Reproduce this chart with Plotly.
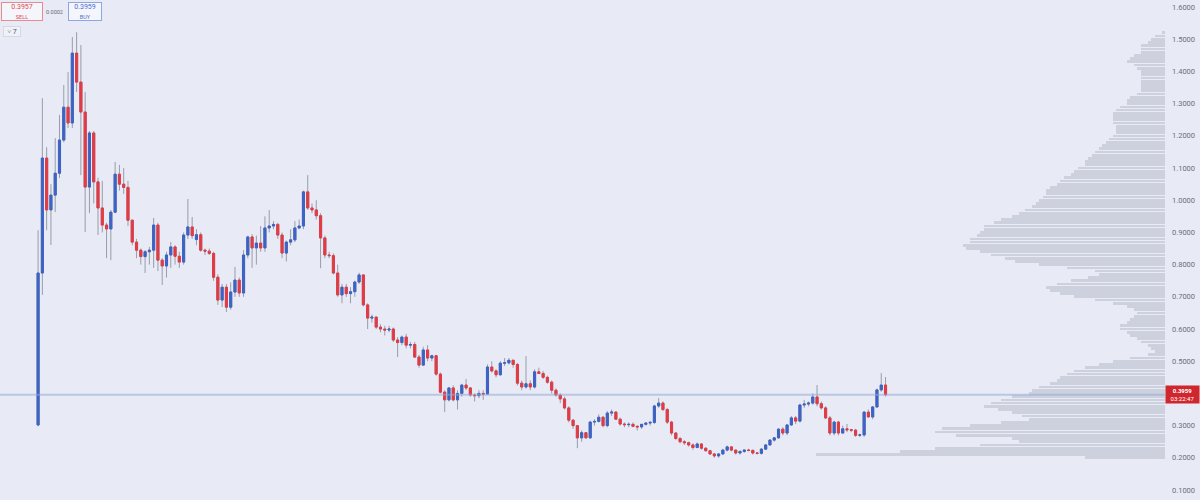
import plotly.graph_objects as go

# daily candles
open_ = [
    .302, .774, 1.131, .970, 1.016, 1.084, 1.187, 1.289, 1.240, 1.457,
    1.367, 1.274, 1.041, 1.209, 1.057, .976, .923, .911, .963, 1.081,
    1.050, 1.040, .938, .870, .845, .825, .840, .845, .923, .814,
    .796, .830, .855, .826, .808, .892, .917, .878, .893, .845,
    .842, .835, .761, .690, .730, .668, .715, .752, .712, .830,
    .886, .852, .867, .852, .914, .920, .925, .892, .836, .870,
    .877, .914, .920, 1.026, .976, .970, .952, .883, .830, .828,
    .774, .706, .730, .710, .716, .746, .768, .675, .634, .637,
    .606, .600, .597, .600, .566, .558, .575, .550, .552, .513,
    .488, .535, .510, .517, .460, .404, .380, .417, .380, .400,
    .426, .417, .395, .393, .400, .398, .482, .470, .458, .494,
    .495, .503, .490, .432, .420, .430, .420, .467, .462, .450,
    .435, .410, .395, .383, .355, .317, .300, .262, .278, .262,
    .311, .313, .326, .300, .339, .342, .320, .305, .303, .304,
    .298, .296, .304, .308, .310, .361, .370, .350, .311, .277,
    .260, .250, .247, .240, .232, .243, .230, .222, .212, .206,
    .212, .224, .234, .224, .215, .220, .224, .223, .215, .214,
    .227, .240, .255, .262, .289, .277, .302, .324, .314, .364,
    .367, .370, .389, .368, .355, .324, .277, .311, .277, .290,
    .287, .286, .270, .271, .342, .327, .358, .411, .426,
]
high = [
    .907, 1.317, 1.165, 1.050, 1.193, 1.265, 1.358, 1.398, 1.507, 1.522,
    1.482, 1.336, 1.215, 1.215, 1.070, 1.060, .930, .970, 1.119, 1.110,
    1.100, 1.060, .940, .880, .850, .845, .855, .945, .930, .820,
    .840, .870, .860, .840, .900, 1.004, .948, .910, .900, .850,
    .850, .840, .770, .740, .740, .745, .793, .760, .845, .890,
    .895, .890, .920, .950, .970, .935, .930, .900, .875, .910,
    .935, .940, 1.030, 1.078, .990, 1.000, .960, .890, .840, .835,
    .800, .740, .740, .730, .750, .775, .770, .680, .645, .640,
    .615, .610, .610, .605, .575, .580, .585, .560, .560, .520,
    .545, .550, .520, .520, .465, .410, .420, .425, .410, .430,
    .445, .420, .400, .410, .410, .490, .500, .475, .500, .510,
    .510, .505, .495, .440, .516, .440, .475, .480, .470, .455,
    .440, .415, .400, .390, .360, .320, .300, .285, .280, .315,
    .320, .335, .330, .345, .350, .345, .325, .310, .310, .310,
    .300, .305, .310, .315, .365, .386, .375, .355, .315, .280,
    .265, .255, .250, .245, .248, .245, .232, .225, .215, .215,
    .228, .238, .236, .226, .222, .226, .228, .226, .218, .230,
    .243, .258, .265, .292, .295, .305, .330, .330, .368, .380,
    .375, .400, .426, .375, .360, .330, .315, .315, .300, .305,
    .290, .290, .275, .345, .350, .360, .415, .463, .451,
]
low = [
    .298, .706, .907, .861, .963, 1.069, 1.180, 1.224, 1.224, 1.336,
    1.078, .901, .960, .990, .892, .900, .820, .814, .960, 1.030,
    1.020, .920, .860, .820, .800, .774, .800, .790, .780, .737,
    .760, .790, .800, .790, .800, .880, .880, .860, .840, .830,
    .830, .750, .675, .668, .653, .660, .700, .700, .700, .820,
    .790, .800, .840, .840, .900, .910, .880, .820, .810, .860,
    .870, .910, .910, .970, .960, .940, .789, .820, .820, .770,
    .700, .680, .700, .680, .700, .740, .670, .600, .620, .600,
    .590, .580, .590, .560, .513, .550, .540, .540, .510, .480,
    .485, .500, .500, .455, .400, .342, .375, .375, .350, .390,
    .410, .390, .375, .385, .380, .395, .465, .450, .455, .485,
    .490, .480, .425, .410, .415, .410, .415, .460, .445, .430,
    .400, .390, .370, .350, .310, .290, .230, .250, .260, .260,
    .300, .310, .295, .295, .330, .320, .300, .295, .295, .295,
    .285, .290, .300, .300, .305, .355, .345, .305, .270, .255,
    .245, .240, .235, .225, .230, .225, .220, .210, .200, .200,
    .210, .220, .220, .210, .210, .215, .220, .210, .210, .210,
    .225, .238, .250, .260, .270, .270, .300, .305, .310, .355,
    .360, .365, .360, .350, .320, .270, .270, .270, .275, .280,
    .280, .265, .265, .265, .325, .320, .355, .405, .390,
]
close = [
    .774, 1.131, .970, 1.016, 1.084, 1.187, 1.289, 1.240, 1.457, 1.367,
    1.274, 1.041, 1.209, 1.057, .976, .923, .911, .963, 1.081, 1.050,
    1.040, .938, .870, .845, .825, .840, .845, .923, .814, .796,
    .830, .855, .826, .808, .892, .917, .890, .893, .845, .842,
    .835, .761, .690, .730, .668, .715, .752, .712, .830, .886,
    .852, .867, .852, .914, .920, .925, .892, .836, .870, .877,
    .914, .920, 1.026, .976, .970, .952, .883, .830, .828, .774,
    .706, .730, .710, .716, .746, .768, .675, .634, .637, .606,
    .600, .597, .600, .566, .558, .575, .550, .552, .513, .488,
    .535, .510, .517, .460, .404, .380, .417, .380, .400, .426,
    .417, .395, .393, .400, .398, .482, .470, .458, .494, .495,
    .503, .490, .432, .420, .430, .420, .467, .462, .450, .435,
    .410, .395, .383, .355, .317, .300, .262, .278, .262, .311,
    .313, .326, .300, .339, .342, .320, .305, .303, .304, .298,
    .296, .304, .308, .310, .361, .370, .350, .311, .277, .260,
    .250, .247, .240, .232, .243, .230, .222, .212, .206, .212,
    .224, .234, .224, .215, .220, .224, .223, .215, .214, .227,
    .240, .255, .262, .289, .277, .302, .324, .314, .364, .367,
    .370, .389, .368, .355, .324, .277, .311, .277, .290, .287,
    .286, .270, .271, .342, .327, .358, .411, .426, .3959,
]

# volume profile (relative volume per 0.01 price row, from 0.20 up to 1.52)
profile_levels = [round(0.20 + 0.01 * k, 2) for k in range(133)]
profile_volume = [
    23, 100, 76, 66, 53, 42, 44, 60, 66, 64,
    56, 47, 39, 41, 44, 48, 52, 50, 47, 44,
    39, 38, 36, 33, 31, 30, 28, 26, 23, 19,
    15, 10, 5, 3, 4, 5, 7, 8, 10, 11,
    13, 13, 11, 10, 9, 8, 9, 11, 15, 20,
    26, 30, 33, 34, 31, 27, 22, 19, 20, 28,
    36, 43, 46, 50, 53, 57, 58, 56, 56, 54,
    53, 52, 52, 49, 47, 44, 42, 40, 38, 37,
    36, 35, 34, 34, 33, 31, 30, 29, 27, 26,
    25, 23, 23, 22, 21, 20, 19, 18, 17, 16,
    15, 14, 14, 14, 15, 15, 15, 15, 14, 13,
    11, 11, 10, 8, 7, 7, 7, 7, 7, 7,
    7, 8, 9, 11, 10, 9, 7, 7, 7, 5,
    4, 3, 1,
]

bid, ask, spread = "0.3957", "0.3959", "0.0002"
countdown = "03:22:47"
y_ticks = [0.1, 0.2, 0.3, 0.4, 0.5, 0.6, 0.7, 0.8, 0.9, 1.0, 1.1, 1.2, 1.3, 1.4, 1.5, 1.6]

BG = "#e8ebf5"
UP = "#3d63c4"
DOWN = "#e23b45"
WICK = "#979dab"

xs = list(range(len(close)))
body_hi = [max(o, c) for o, c in zip(open_, close)]
body_lo = [min(o, c) for o, c in zip(open_, close)]

fig = go.Figure()

fig.add_trace(go.Bar(
    x=profile_volume, y=profile_levels, orientation="h",
    xaxis="x2", yaxis="y", width=0.0085,
    marker=dict(color="#cdd1de", line=dict(width=0)),
    hoverinfo="skip", showlegend=False,
))

# wicks (grey), then coloured bodies on top
fig.add_trace(go.Candlestick(
    x=xs, open=open_, high=high, low=low, close=close,
    increasing=dict(line=dict(color=WICK, width=1), fillcolor=WICK),
    decreasing=dict(line=dict(color=WICK, width=1), fillcolor=WICK),
    whiskerwidth=0, showlegend=False, hoverinfo="skip",
))
fig.add_trace(go.Candlestick(
    x=xs, open=open_, high=body_hi, low=body_lo, close=close,
    increasing=dict(line=dict(color=UP, width=1), fillcolor=UP),
    decreasing=dict(line=dict(color=DOWN, width=1), fillcolor=DOWN),
    whiskerwidth=0, showlegend=False,
))

last = close[-1]
fig.add_shape(type="line", xref="paper", x0=0, x1=1, y0=last, y1=last,
              line=dict(color="rgba(150,168,215,0.55)", width=2), layer="above")

fig.add_annotation(
    xref="paper", x=1.0, xanchor="left", y=last, yanchor="middle",
    text=f"<b>{last:.4f}</b><br>{countdown}", showarrow=False,
    font=dict(family="Roboto", size=6, color="white"),
    bgcolor="#d0262e", width=33, height=17, borderpad=0, align="center",
)

# bid / ask boxes top-left
fig.add_annotation(
    xref="paper", yref="paper", x=0.001, y=0.996, xanchor="left", yanchor="top",
    text=f"{bid}<br><span style='font-size:5.5px'>SELL</span>", showarrow=False,
    font=dict(family="Roboto", size=7, color="#e04850"),
    bgcolor="rgba(255,255,255,0.55)", bordercolor="#e88a90", borderwidth=1,
    width=40, height=17, borderpad=0, align="center",
)
fig.add_annotation(
    xref="paper", yref="paper", x=0.0465, y=0.976, xanchor="center", yanchor="middle",
    text=spread, showarrow=False, font=dict(family="Roboto", size=5.5, color="#666a75"),
)
fig.add_annotation(
    xref="paper", yref="paper", x=0.058, y=0.996, xanchor="left", yanchor="top",
    text=f"{ask}<br><span style='font-size:5.5px'>BUY</span>", showarrow=False,
    font=dict(family="Roboto", size=7, color="#4a6fd0"),
    bgcolor="rgba(255,255,255,0.55)", bordercolor="#8ea6e6", borderwidth=1,
    width=32, height=17, borderpad=0, align="center",
)
fig.add_annotation(
    xref="paper", yref="paper", x=0.003, y=0.948, xanchor="left", yanchor="top",
    text="˅ 7", showarrow=False, font=dict(family="Roboto", size=7, color="#555a66"),
    bgcolor="rgba(255,255,255,0.3)", bordercolor="#d6d9e4", borderwidth=1,
    width=16, height=9, borderpad=0,
)

fig.update_layout(
    width=1200, height=500,
    margin=dict(l=0, r=35, t=0, b=0),
    paper_bgcolor=BG, plot_bgcolor=BG,
    showlegend=False, boxgap=0.3, bargap=0,
    xaxis=dict(range=[-8.9, 263.3], visible=False, rangeslider=dict(visible=False),
               showgrid=False, zeroline=False),
    xaxis2=dict(overlaying="x", range=[334, 0], visible=False, showgrid=False, zeroline=False),
    yaxis=dict(side="right", range=[0.069, 1.622], tickvals=y_ticks, tickformat=".4f",
               showgrid=False, zeroline=False, showline=False, ticks="",
               ticklabelstandoff=6,
               tickfont=dict(family="Roboto", size=7.5, color="#6b6f7a")),
    font=dict(family="Roboto"),
)

# drop the page's default body margin so the 1200x500 figure fills the window
fig.write_html(
    "out.html",
    config={"displayModeBar": False},
    post_script="document.body.style.margin='0';document.body.style.overflow='hidden';",
)
